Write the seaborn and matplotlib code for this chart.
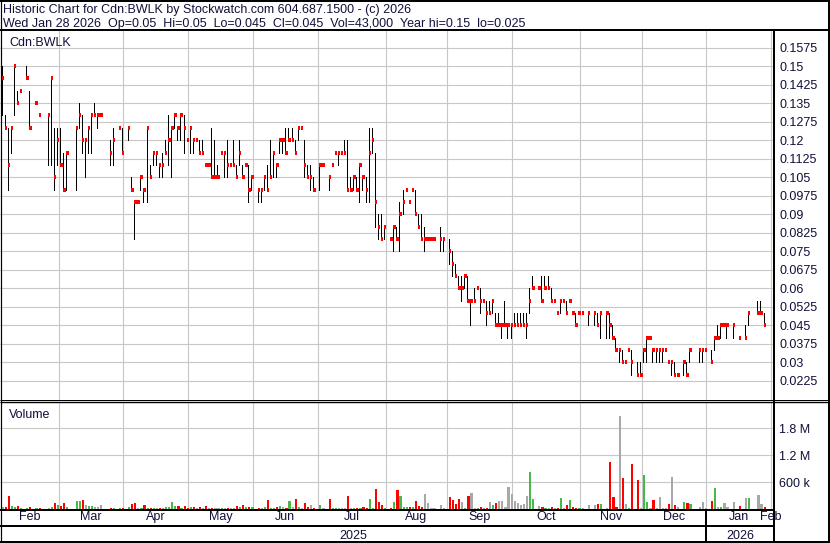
import numpy as np
import pandas as pd
import matplotlib
matplotlib.use("Agg")
import matplotlib.pyplot as plt
import seaborn as sns

W, H = 830, 543
PX = 0.72  # points per pixel at 100 dpi
TXT = "#10103a"
GRID = "#c8c8c8"
FS = 9.0

title = "Historic Chart for Cdn:BWLK by Stockwatch.com 604.687.1500 - (c) 2026"
subtitle = ("Wed Jan 28 2026  Op=0.05  Hi=0.05  Lo=0.045  Cl=0.045  "
            "Vol=43,000  Year hi=0.15  lo=0.025")
symbol = "Cdn:BWLK"

# TSX trading calendar, Feb 3 2025 .. first session of Feb 2026
holidays = ["2025-02-17", "2025-04-18", "2025-05-19", "2025-07-01", "2025-08-04",
            "2025-09-01", "2025-10-13", "2025-12-25", "2025-12-26", "2026-01-01"]

# trading-day index of each day that traded, with high / low / close and volume (thousands)
day = [0, 1, 2, 3, 4, 5, 6, 8, 9, 11, 12, 15, 16, 17, 18,
       19, 20, 21, 24, 25, 26, 27, 28, 29, 30, 31, 32, 35, 36, 38, 39,
       41, 42, 43, 44, 45, 46, 47, 48, 49, 50, 51, 52, 53, 54, 55, 56, 57, 58, 59, 60,
       61, 62, 63, 64, 65, 66, 67, 68, 69, 70, 71, 72, 73, 74, 75, 76, 77, 78, 79, 80, 81,
       83, 84, 85, 86, 87, 88, 89, 90, 91, 92, 93, 94, 95, 96, 97, 98, 99, 100, 101,
       103, 104, 106, 107, 108, 109, 110, 111, 112, 113, 114, 115, 116, 117, 118, 119, 120, 121, 122, 123, 124,
       126, 127, 128, 129, 130, 131, 132, 133, 134, 135, 136, 137, 138, 139, 140, 142, 143,
       145, 146, 147, 148, 149, 150, 151, 152, 153, 154, 155, 156, 157, 158, 159, 160, 161, 162, 163, 164, 165,
       166, 167, 168, 169, 170, 171, 172, 174, 175, 176, 177, 178, 179, 180, 181, 182, 183, 184, 185, 186, 187,
       188, 190, 192, 193, 194, 196, 197, 198, 199, 200, 201, 202, 203, 204, 206, 207,
       208, 209, 210, 211, 212, 213, 214, 215, 216, 217, 218, 219, 221, 222, 223, 226, 227, 228,
       230, 231, 232, 233, 234, 235, 237, 239, 241, 242, 245, 246, 247]

high = [.15, .13, .125, .125, .15, .14, .14, .15, .14, .135, .13, .13, .145, .125, .125,
        .125, .115, .115, .125, .135, .13, .12, .125, .13, .135, .13, .13, .12, .125, .125, .125,
        .125, .105, .095, .095, .105, .10, .125, .11, .115, .115, .11, .115, .12, .13, .125, .13, .125, .13, .13, .12,
        .125, .12, .12, .12, .12, .11, .11, .125, .12, .11, .115, .115, .12, .11, .12, .11, .12, .11, .11, .11, .105,
        .10, .10, .105, .11, .12, .115, .11, .12, .12, .125, .125, .125, .12, .125, .125, .12, .11, .11, .105,
        .11, .11, .105, .11, .115, .115, .115, .12, .12, .105, .105, .105, .11, .105, .105, .125, .125, .115, .09, .09, .085,
        .08, .085, .085, .095, .10, .10, .095, .10, .10, .09, .09, .085, .08, .08, .08, .085, .08,
        .08, .075, .07, .065, .065, .065, .065, .055, .06, .06, .06, .055, .055, .055, .055, .05, .05, .045, .055, .045, .045,
        .05, .05, .05, .05, .05, .06, .065, .06, .065, .065, .065, .06, .055, .05, .055, .055, .055, .055, .05, .05, .05,
        .05, .05, .05, .05, .05, .05, .05, .045, .04, .035, .035, .03, .035, .035, .03, .03,
        .035, .04, .04, .035, .035, .035, .035, .035, .03, .03, .03, .025, .03, .03, .035, .035, .035, .035,
        .035, .04, .045, .045, .045, .045, .045, .04, .045, .05, .055, .055, .05]

low = [.13, .125, .10, .115, .13, .135, .14, .145, .125, .135, .13, .11, .11, .10, .11,
       .11, .10, .10, .10, .125, .115, .105, .115, .115, .13, .125, .13, .11, .11, .125, .115,
       .12, .10, .08, .095, .10, .095, .095, .105, .11, .11, .105, .105, .115, .11, .105, .125, .12, .12, .115, .12,
       .115, .115, .12, .115, .115, .11, .11, .105, .105, .105, .115, .105, .105, .11, .11, .105, .11, .105, .11, .095, .10,
       .095, .095, .10, .10, .105, .105, .105, .115, .115, .115, .12, .12, .115, .12, .125, .105, .105, .10, .10,
       .10, .11, .10, .11, .115, .11, .115, .115, .10, .10, .10, .10, .095, .10, .095, .095, .115, .085, .08, .08, .08,
       .08, .075, .08, .075, .09, .10, .095, .10, .09, .085, .08, .075, .08, .08, .08, .075, .075,
       .07, .065, .065, .06, .055, .06, .055, .045, .055, .06, .05, .055, .045, .05, .05, .045, .045, .04, .045, .04, .04,
       .045, .045, .045, .045, .04, .05, .06, .06, .055, .06, .06, .055, .055, .05, .05, .055, .05, .055, .05, .045, .05,
       .05, .045, .045, .045, .04, .04, .04, .04, .035, .03, .03, .03, .035, .025, .025, .025,
       .03, .03, .04, .03, .03, .03, .03, .035, .03, .025, .025, .025, .025, .025, .03, .03, .03, .035,
       .03, .035, .04, .04, .045, .04, .04, .04, .04, .045, .05, .05, .045]

close = [.145, .125, .11, .125, .15, .135, .14, .145, .125, .135, .13, .13, .145, .105, .12,
         .11, .10, .115, .125, .13, .12, .12, .125, .13, .13, .13, .13, .115, .12, .125, .115,
         .125, .10, .095, .095, .105, .10, .125, .105, .115, .115, .11, .11, .115, .12, .125, .13, .125, .13, .125, .12,
         .125, .12, .12, .115, .115, .11, .11, .105, .105, .105, .115, .115, .11, .11, .11, .105, .115, .105, .11, .10, .105,
         .10, .10, .105, .10, .105, .115, .11, .12, .12, .115, .12, .12, .115, .125, .125, .11, .105, .105, .10,
         .11, .11, .105, .11, .115, .115, .115, .115, .10, .10, .105, .10, .11, .105, .10, .115, .12, .095, .085, .08, .085,
         .08, .085, .08, .09, .095, .10, .095, .10, .09, .085, .08, .08, .08, .08, .08, .08, .08,
         .075, .07, .065, .06, .06, .065, .055, .055, .055, .06, .055, .055, .05, .05, .055, .045, .045, .045, .045, .045, .045,
         .045, .045, .045, .045, .045, .055, .06, .06, .055, .06, .06, .055, .055, .05, .055, .055, .05, .055, .05, .045, .05,
         .05, .05, .05, .045, .05, .05, .045, .04, .035, .035, .03, .03, .035, .03, .025, .025,
         .035, .04, .04, .035, .035, .035, .035, .035, .03, .03, .025, .025, .03, .025, .035, .035, .035, .035,
         .03, .04, .04, .045, .045, .045, .045, .04, .04, .05, .05, .05, .045]

volume_k = [40, 54, 285, 69, 54, 69, 31, 31, 46, 31, 31, 31, 46, 138, 92,
            69, 123, 54, 170, 170, 192, 92, 69, 69, 46, 46, 92, 31, 31, 31, 31,
            46, 108, 123, 31, 31, 92, 31, 31, 31, 31, 25, 25, 46, 46, 161, 69, 69, 31, 69, 31,
            46, 46, 31, 46, 31, 69, 31, 31, 31, 31, 31, 31, 31, 31, 31, 69, 46, 92, 46, 46, 46,
            31, 31, 46, 208, 31, 31, 54, 69, 46, 31, 170, 46, 215, 46, 31, 123, 46, 92, 31,
            92, 31, 215, 31, 31, 31, 20, 20, 285, 31, 31, 31, 31, 54, 31, 215, 31, 452, 146, 92, 31,
            31, 146, 430, 285, 54, 46, 54, 54, 185, 69, 46, 333, 138, 31, 31, 92, 31,
            277, 192, 115, 231, 161, 31, 300, 355, 31, 31, 46, 31, 31, 161, 92, 138, 185, 170, 46, 490, 333,
            185, 138, 92, 115, 300, 822, 231, 69, 46, 31, 31, 46, 31, 31, 254, 31, 92, 208, 46, 31, 31,
            31, 92, 92, 115, 115, 31, 1045, 277, 46, 2070, 690, 115, 31, 1000, 644, 31,
            756, 161, 31, 208, 31, 277, 31, 31, 115, 710, 92, 46, 161, 138, 115, 46, 161, 31,
            185, 467, 46, 46, 138, 46, 161, 69, 254, 254, 311, 115, 43]

price_ticks = np.round(np.arange(0.0225, 0.1576, 0.0075), 4)
vol_ticks = [600_000, 1_200_000, 1_800_000]
vol_labels = ["600 k", "1.2 M", "1.8 M"]
move_colors = {"up": "#48b848", "down": "#ff0000", "flat": "#a8a8a8"}

assert len(day) == len(high) == len(low) == len(close) == len(volume_k)

dates = pd.bdate_range("2025-02-03", "2026-02-02")
dates = dates[~dates.isin(pd.to_datetime(holidays))]
months = pd.Series(dates.to_period("M"))
starts = months.ne(months.shift()).to_numpy().nonzero()[0]
bounds = starts[1:] - 0.5          # Mar 2025 .. Feb 2026
names = [dates[i].strftime("%b") for i in starts]

df = pd.DataFrame({"day": day, "high": high, "low": low, "close": close,
                   "volume": np.array(volume_k) * 1000.0})
step = np.sign(df["close"].diff().fillna(0).round(4))
df["move"] = step.map({1.0: "up", -1.0: "down", 0.0: "flat"})
df["pos"] = df["day"] + 0.35

sns.set_style("white")
plt.rcParams["font.family"] = ["Liberation Sans", "DejaVu Sans"]
plt.rcParams["font.size"] = FS

fig = plt.figure(figsize=(W / 100, H / 100), dpi=100)


def box(x0, y0, x1, y1):
    return [x0 / W, 1 - y1 / H, (x1 - x0) / W, (y1 - y0) / H]


ax_p = fig.add_axes(box(0, 31, 774, 399.5))
ax_v = fig.add_axes(box(0, 402.5, 774, 509))
XLIM = (-0.5, 250.4)

# price: high-low bars in black, close tick in red
rng = df[df["high"] > df["low"]]
ax_p.vlines(rng["day"], rng["low"], rng["high"], colors="black", lw=1 * PX,
            antialiased=False, zorder=3)
ax_p.hlines(df["close"], df["day"], df["day"] + 0.78, colors="red", lw=2.2 * PX,
            antialiased=False, zorder=4)
ax_p.set_ylim(0.01488, 0.16425)

# volume
sns.barplot(data=df, x="pos", y="volume", hue="move", palette=move_colors,
            native_scale=True, dodge=False, width=0.7, errorbar=None,
            legend=False, linewidth=0, saturation=1, ax=ax_v)
ax_v.set_ylim(0, 2_367_000)

for ax in (ax_p, ax_v):
    ax.set_xlim(*XLIM)
    ax.set_xticks(bounds)
    ax.grid(True, color=GRID, lw=0.8)
    ax.set_axisbelow(True)
    ax.set_xlabel("")
    ax.set_ylabel("")
    for s in ax.spines.values():
        s.set_visible(False)
    ax.yaxis.tick_right()
    ax.tick_params(axis="both", which="both", length=0, colors=TXT, labelsize=FS)
    ax.tick_params(axis="y", pad=3.6)

ax_p.set_yticks(price_ticks, labels=[f"{v:g}" for v in price_ticks])
ax_p.tick_params(axis="x", labelbottom=False)
ax_v.set_yticks(vol_ticks, labels=vol_labels)
ax_v.set_xticklabels([])

# month names centred in each month, the last (Feb 2026) on its boundary
edges = np.r_[XLIM[0], bounds]
mids = list((edges[:-1] + edges[1:]) / 2) + [bounds[-1]]
ax_v.xaxis.remove_overlapping_locs = False
ax_v.set_xticks(mids, labels=names, minor=True)
ax_v.tick_params(axis="x", which="minor", pad=1.6)

# frame, header and labels in pixel coordinates
ov = fig.add_axes([0, 0, 1, 1], zorder=10)
ov.set_xlim(0, W)
ov.set_ylim(H, 0)
ov.axis("off")


def line(x0, y0, x1, y1, w=2):
    ov.plot([x0, x1], [y0, y1], color="black", lw=w * PX, solid_capstyle="butt")


def to_px(x):
    return (x - XLIM[0]) / (XLIM[1] - XLIM[0]) * 774


line(0, 1, W, 1)
line(0, 541.5, W, 541.5)
line(0.5, 0, 0.5, H, 1.2)
line(828.5, 0, 828.5, H)
line(0, 30, W, 30)
line(774, 30, 774, H)
line(0, 399.5, W, 399.5, 1)
line(0, 401.8, W, 401.8, 1.4)
line(0, 510.3, 774, 510.3)
line(0, 526.3, 774, 526.3)
jan = to_px(bounds[-2])
line(jan, 510, jan, 541)

ov.text(3, 10, title, va="center", ha="left", color=TXT, fontsize=FS)
ov.text(3, 24.5, subtitle, va="center", ha="left", color=TXT, fontsize=FS)
ov.text(9, 43, symbol, va="center", ha="left", color=TXT, fontsize=FS)
ov.text(9, 415, "Volume", va="center", ha="left", color=TXT, fontsize=FS)
ov.text(jan / 2, 536, "2025", va="center", ha="center", color=TXT, fontsize=FS)
ov.text((jan + 774) / 2, 536, "2026", va="center", ha="center", color=TXT, fontsize=FS)

fig.savefig("out.png", dpi=100)
